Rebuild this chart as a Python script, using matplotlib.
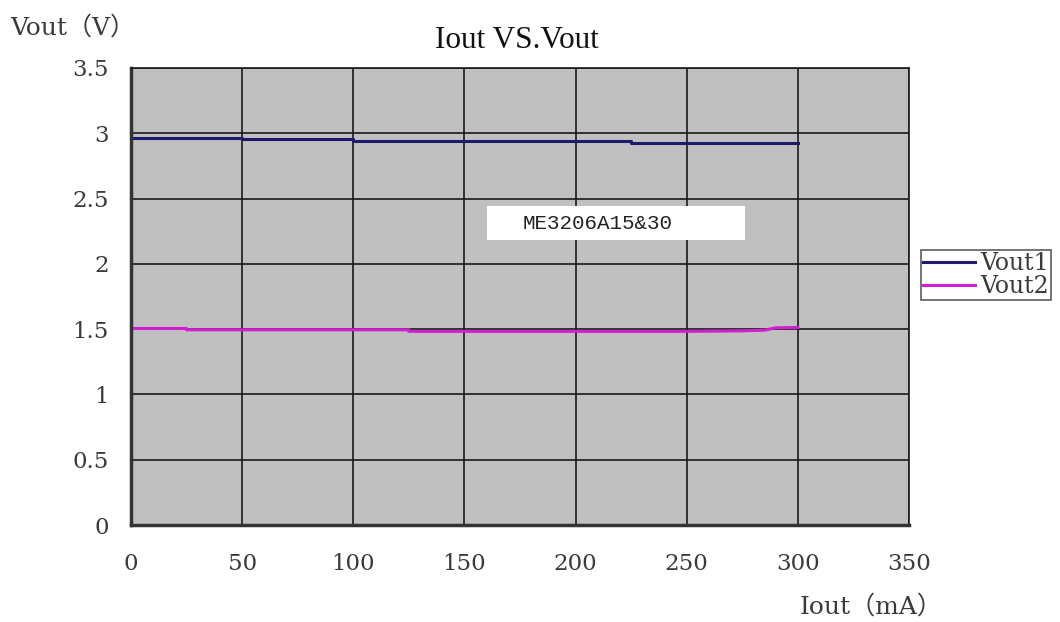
import matplotlib
matplotlib.use("Agg")
import matplotlib.pyplot as plt
from matplotlib.patches import Rectangle

# Data
iout1 = [0, 50, 100, 225, 300]
vout1 = [2.964, 2.954, 2.942, 2.928, 2.928]

iout2 = [0, 25, 25, 125, 125, 250, 275, 285, 290, 300]
vout2 = [1.505, 1.505, 1.495, 1.495, 1.483, 1.483, 1.487, 1.492, 1.510, 1.513]

x_ticks = [0, 50, 100, 150, 200, 250, 300, 350]
y_ticks = [0, 0.5, 1, 1.5, 2, 2.5, 3, 3.5]
y_tick_labels = ["0", "0.5", "1", "1.5", "2", "2.5", "3", "3.5"]

fam = ["DejaVu Serif", "Noto Sans CJK SC", "DejaVu Sans"]
plt.rcParams['font.family'] = fam

fig = plt.figure(figsize=(10.6, 6.22), dpi=100)
ax = fig.add_axes([131/1060, 1 - 525/622, (909-131)/1060, (525-68)/622])
ax.set_facecolor("#c0c0c0")

ax.plot(iout1, vout1, color="#1c1c6e", lw=2.2, label="Vout1", drawstyle="steps-post")
ax.plot(iout2, vout2, color="#d21ed2", lw=2.2, label="Vout2")

ax.set_xlim(0, 350)
ax.set_ylim(0, 3.5)
ax.set_xticks(x_ticks)
ax.set_yticks(y_ticks)
ax.set_yticklabels(y_tick_labels)
ax.grid(True, color="#1a1a1a", lw=1.2)
ax.set_axisbelow(True)
ax.tick_params(length=0, labelsize=16.5, colors="#3a3a3a")
ax.tick_params(axis="x", pad=20)
ax.tick_params(axis="y", pad=16)
for s in ["top", "right"]:
    ax.spines[s].set_color("#1a1a1a")
    ax.spines[s].set_linewidth(1.2)
for s in ["left", "bottom"]:
    ax.spines[s].set_color("#333333")
    ax.spines[s].set_linewidth(2.5)

# annotation box
ax.add_patch(Rectangle((160, 2.182), 116.3, 0.261, facecolor="white", edgecolor="none", zorder=3))
ax.text(176, 2.31, "ME3206A15&30", fontsize=15, va="center", ha="left", zorder=4,
        family=["Liberation Mono", "DejaVu Sans"], color="#222222")

fig.text(517/1060, 1 - 40/622, "Iout VS.Vout", fontsize=22.5, ha="center", va="center",
         color="#111111", family=["Liberation Serif", "DejaVu Serif"])
fig.text(10/1060, 1 - 28/622, "Vout（V）", fontsize=18, ha="left", va="center", color="#3a3a3a")
fig.text(800/1060, 1 - 607/622, "Iout（mA）", fontsize=18, ha="left", va="center", color="#3a3a3a")

leg = fig.legend(loc="center left", bbox_to_anchor=(921/1060, 1 - 275/622), fontsize=17,
                 frameon=True, fancybox=False, handlelength=2.2, handletextpad=0.2,
                 borderpad=0.1, labelspacing=0.0, borderaxespad=0)
leg.get_frame().set_edgecolor("#333333")
leg.get_frame().set_linewidth(1.2)
for t in leg.get_texts():
    t.set_color("#3a3a3a")

fig.savefig("out.png", dpi=100, facecolor="white")
